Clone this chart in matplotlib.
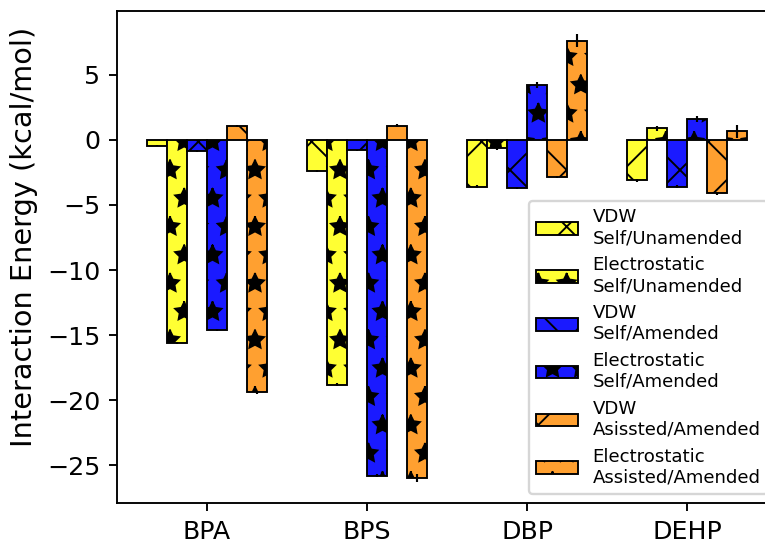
import numpy as np
import matplotlib
matplotlib.use("Agg")
import matplotlib.pyplot as plt

# molecules on the x axis
molecules = ["BPA", "BPS", "DBP", "DEHP"]

# interaction energies (kcal/mol), one list per bar series
vdw_self_unam = [-0.45, -2.4, -3.6, -3.1]
elec_self_unam = [-15.6, -18.8, -0.6, 0.9]
vdw_self_am = [-0.85, -0.8, -3.7, -3.6]
elec_self_am = [-14.6, -25.8, 4.2, 1.6]
vdw_assist_am = [1.05, 1.1, -2.85, -4.1]
elec_assist_am = [-19.4, -26.0, 7.6, 0.65]

# error bars
err_vdw_self_unam = [0.05, 0.1, 0.1, 0.1]
err_elec_self_unam = [0.1, 0.1, 0.15, 0.2]
err_vdw_self_am = [0.05, 0.05, 0.1, 0.1]
err_elec_self_am = [0.1, 0.1, 0.25, 0.25]
err_vdw_assist_am = [0.1, 0.15, 0.1, 0.1]
err_elec_assist_am = [0.1, 0.3, 0.5, 0.5]

labels = ["VDW\nSelf/Unamended", "Electrostatic\nSelf/Unamended",
          "VDW\nSelf/Amended", "Electrostatic\nSelf/Amended",
          "VDW\nAsissted/Amended", "Electrostatic\nAssisted/Amended"]

series = [vdw_self_unam, elec_self_unam, vdw_self_am,
          elec_self_am, vdw_assist_am, elec_assist_am]
errors = [err_vdw_self_unam, err_elec_self_unam, err_vdw_self_am,
          err_elec_self_am, err_vdw_assist_am, err_elec_assist_am]
colors = ["#ffff33", "#ffff33", "#1a1aff", "#1a1aff", "#ffa030", "#ffa030"]
hatches = ["x", "*", "x", "*", "x", "*"]

plt.rcParams["hatch.linewidth"] = 0.8

dpi = 170
fig = plt.figure(figsize=(765 / dpi, 542 / dpi), dpi=dpi)
ax = fig.add_axes([0.153, 0.072, 0.8627, 0.9077])

x = np.arange(len(molecules))
w = 0.125
for i in range(len(series)):
    ax.bar(x + (i - 2.5) * w, series[i], w, yerr=errors[i],
           color=colors[i], edgecolor="black", linewidth=0.8,
           hatch=hatches[i], label=labels[i],
           error_kw=dict(ecolor="black", elinewidth=0.9, capsize=0))

ax.set_xlim(-0.5625, 3.5625)
ax.set_ylim(-27.9, 9.9)
ax.set_xticks(x)
ax.set_xticklabels(molecules, fontsize=10.7)
ax.tick_params(axis="y", labelsize=10.7)
ax.set_ylabel("Interaction Energy (kcal/mol)", fontsize=12.2)
ax.yaxis.label.set_y(0.54)

ax.legend(loc="lower right", fontsize=7.7, handlelength=2.3)

fig.savefig("out.png", dpi=dpi)
